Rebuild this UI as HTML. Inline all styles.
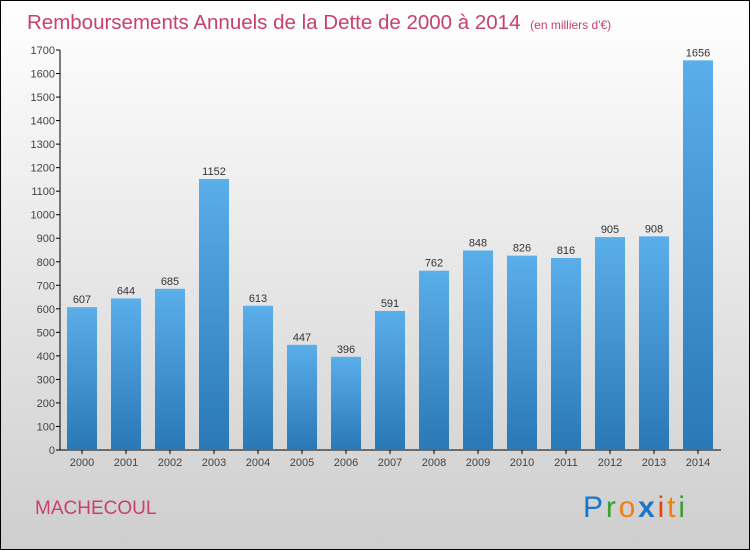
<!DOCTYPE html>
<html><head><meta charset="utf-8"><style>
body{margin:0;width:750px;height:550px;overflow:hidden}
svg{display:block;font-family:"Liberation Sans",sans-serif}
</style></head><body>
<svg width="750" height="550">
<defs>
<linearGradient id="bg" x1="0" y1="0" x2="0" y2="1"><stop offset="0" stop-color="#ffffff"/><stop offset="1" stop-color="#cecece"/></linearGradient>
<linearGradient id="bar" x1="0" y1="0" x2="0" y2="1"><stop offset="0" stop-color="#5aaeea"/><stop offset="1" stop-color="#2a78b6"/></linearGradient>
</defs>
<rect x="0.5" y="0.5" width="749" height="549" fill="url(#bg)" stroke="#000"/>
<text x="27" y="29" font-size="20.5" fill="#c8406e">Remboursements Annuels de la Dette de 2000 à 2014 <tspan font-size="12" dx="4">(en milliers d'€)</tspan></text>
<g id="yaxis"></g>
<g id="bars"></g>
<text x="35" y="514" font-size="19" fill="#c8406e">MACHECOUL</text>
<g font-size="30">
<text x="583" y="517" textLength="102" lengthAdjust="spacing"><tspan fill="#1a76c8">P</tspan><tspan fill="#3aa030">r</tspan><tspan fill="#f08010">o</tspan><tspan fill="#1a76c8" font-weight="bold">x</tspan><tspan fill="#e84010">i</tspan><tspan fill="#f08010">t</tspan><tspan fill="#3aa030">i</tspan></text>
</g>
</svg>
<script>
const years=["2000","2001","2002","2003","2004","2005","2006","2007","2008","2009","2010","2011","2012","2013","2014"];
const values=[607,644,685,1152,613,447,396,591,762,848,826,816,905,908,1656];
const yTicks=[0,100,200,300,400,500,600,700,800,900,1000,1100,1200,1300,1400,1500,1600,1700];
const NS="http://www.w3.org/2000/svg";
const y=v=>450-v*400/1700;
const x=i=>82+i*44;
function mk(t,a,p){const e=document.createElementNS(NS,t);for(const k in a)e.setAttribute(k,a[k]);p.appendChild(e);return e;}
const ya=document.getElementById('yaxis'),bg=document.getElementById('bars');
mk('line',{x1:60,y1:50,x2:60,y2:450,stroke:'#000'},ya);
mk('line',{x1:60,y1:450,x2:721,y2:450,stroke:'#000'},ya);
yTicks.forEach(t=>{
 mk('line',{x1:56,y1:y(t),x2:60,y2:y(t),stroke:'#000'},ya);
 const l=mk('text',{x:55,y:y(t)+4,'font-size':11,fill:'#444','text-anchor':'end'},ya);l.textContent=t;
 
 
});
values.forEach((v,i)=>{
 const r=mk('rect',{x:x(i)-15,y:y(v),width:30,height:450-y(v),fill:'url(#bar)'},bg);
 
 
 const t=mk('text',{x:x(i),y:y(v)-4,'font-size':11,fill:'#333','text-anchor':'middle'},bg);t.textContent=v;
 
 
 mk('line',{x1:x(i),y1:450,x2:x(i),y2:454,stroke:'#000'},bg);
 const xl=mk('text',{x:x(i),y:466,'font-size':11,fill:'#444','text-anchor':'middle'},bg);xl.textContent=years[i];
 
 
});
</script>
</body></html>
